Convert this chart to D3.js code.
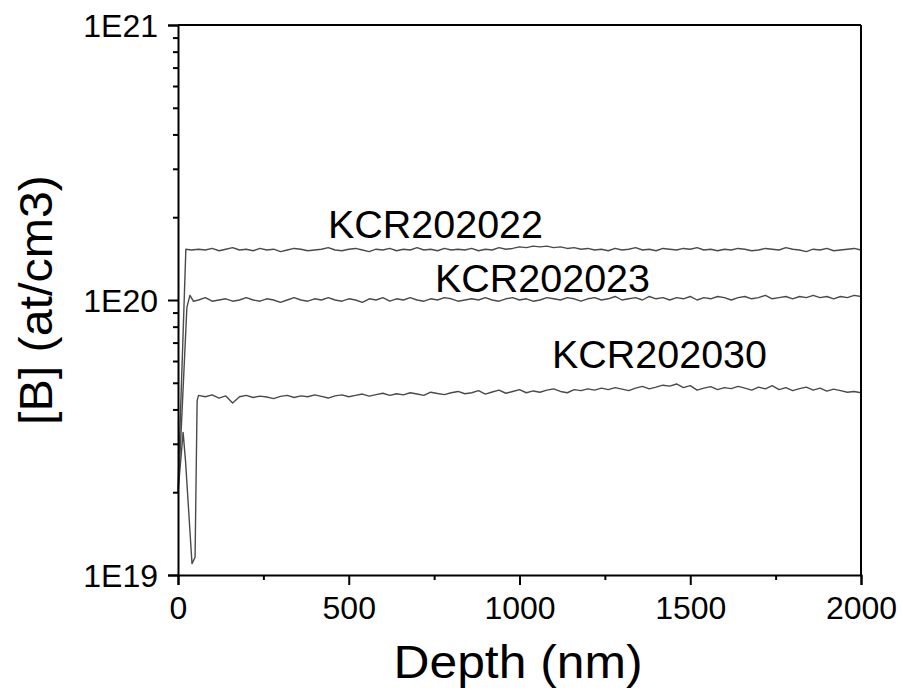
<!DOCTYPE html>
<html><head><meta charset="utf-8">
<script src="https://cdn.jsdelivr.net/npm/d3@7"></script>
<style>html,body{margin:0;padding:0;background:#fff;}svg{display:block;}</style>
</head><body>
<script>
// ---- data (concentration values in units of 1E19 at/cm3) ----
const seriesNames = ["KCR202022", "KCR202023", "KCR202030"];
const xTicks = [0, 500, 1000, 1500, 2000];
const xMinorTicks = [250, 750, 1250, 1750];
const yTickLabels = ["1E19", "1E20", "1E21"];
const yTicks = [1e19, 1e20, 1e21];

// plateau depth grid (nm): 60, 80, ..., 2000
const gridDepth = d3.range(60, 2001, 20);

const headDepth2022 = [0, 23, 40];
const headValue2022 = [2.05, 15.3, 15.2];
const body2022 = [
15.3,15.2,15.4,15.1,15.3,15.5,15.2,15.3,15.1,15.4,
15.2,15.3,15.0,15.2,15.4,15.3,15.1,15.2,15.3,15.5,
15.2,15.1,15.3,15.4,15.2,15.0,15.3,15.2,15.4,15.1,
15.3,15.2,15.5,15.2,15.3,15.1,15.4,15.2,15.3,15.2,
15.4,15.1,15.3,15.2,15.5,15.3,15.4,15.6,15.5,15.7,
15.6,15.7,15.5,15.6,15.4,15.5,15.3,15.4,15.2,15.3,
15.1,15.4,15.2,15.3,15.5,15.2,15.3,15.1,15.4,15.3,
15.2,15.4,15.3,15.5,15.2,15.3,15.1,15.3,15.2,15.4,
15.3,15.1,15.2,15.4,15.3,15.2,15.5,15.3,15.2,15.0,
15.3,15.2,15.4,15.1,15.2,15.3,15.4,15.2];

const headDepth2023 = [0, 8, 26, 35, 45];
const headValue2023 = [2.0, 3.1, 9.4, 10.4, 9.9];
const body2023 = [
10.0,10.2,9.9,10.0,10.1,9.9,10.0,10.2,10.0,9.9,
10.1,10.0,9.8,10.0,10.2,10.0,9.9,10.1,10.0,10.2,
10.0,9.9,10.1,10.0,9.8,10.1,10.0,10.2,9.9,10.1,
10.0,10.2,10.0,9.9,10.1,10.0,10.2,10.1,9.9,10.0,
10.1,10.0,10.2,10.0,9.9,10.1,10.2,10.0,10.1,9.9,
10.0,10.2,10.1,10.0,10.2,10.1,9.9,10.1,10.2,10.0,
10.1,10.3,10.0,10.1,10.2,10.0,10.3,10.1,10.2,10.0,
10.2,10.1,10.3,10.0,10.2,10.1,10.3,10.2,10.0,10.2,
10.3,10.1,10.2,10.4,10.1,10.2,10.3,10.1,10.3,10.2,
10.4,10.2,10.3,10.1,10.3,10.2,10.4,10.3];

const headDepth2030 = [0, 15, 22, 41, 50, 56];
const headValue2030 = [2.0, 3.3, 2.6, 1.1, 1.16, 4.3];
const body2030 = [
4.50,4.45,4.52,4.40,4.48,4.22,4.45,4.50,4.42,4.47,
4.44,4.38,4.46,4.50,4.42,4.48,4.45,4.52,4.46,4.40,
4.48,4.52,4.45,4.50,4.55,4.47,4.53,4.58,4.50,4.56,
4.52,4.60,4.55,4.50,4.62,4.57,4.53,4.60,4.65,4.56,
4.60,4.68,4.55,4.63,4.70,4.58,4.65,4.72,4.60,4.67,
4.62,4.70,4.75,4.65,4.60,4.72,4.68,4.75,4.70,4.78,
4.72,4.80,4.74,4.68,4.78,4.85,4.75,4.82,4.90,4.86,
4.95,4.80,4.88,4.70,4.78,4.84,4.72,4.80,4.76,4.85,
4.78,4.70,4.82,4.75,4.88,4.72,4.80,4.68,4.76,4.82,
4.70,4.78,4.66,4.74,4.68,4.62,4.65,4.60];

const unit = 1e19;

// ---- build series ----
function build(hd, hv, body) {
  const pts = hd.map((d, i) => ({x: d, y: hv[i] * unit}));
  gridDepth.forEach((d, i) => pts.push({x: d, y: body[i] * unit}));
  return pts;
}
const series = [
  build(headDepth2022, headValue2022, body2022),
  build(headDepth2023, headValue2023, body2023),
  build(headDepth2030, headValue2030, body2030)
];

// ---- layout ----
const W = 903, H = 692;
const L = 178, R = 861, T = 25, B = 575;
const font = "'Liberation Sans', Arial, sans-serif";

const svg = d3.select("body").append("svg").attr("width", W).attr("height", H);

const x = d3.scaleLinear().domain([0, 2000]).range([L, R]);
const y = d3.scaleLog().domain([1e19, 1e21]).range([B, T]);

// curves
const line = d3.line().x(d => x(d.x)).y(d => y(d.y));
svg.append("g").selectAll("path").data(series).join("path")
  .attr("d", line).attr("fill", "none")
  .attr("stroke", "#4a4a4a").attr("stroke-width", 1.4).attr("stroke-linejoin", "round");

// y axis
const yMinor = [];
[1e19, 1e20].forEach(b => { for (let k = 2; k <= 9; k++) yMinor.push(b * k); });
const yAxis = d3.axisLeft(y).tickValues(yTicks).tickSize(10).tickFormat((d, i) => yTickLabels[i]).tickPadding(10);
const gy = svg.append("g").attr("transform", `translate(${L},0)`).call(yAxis);
gy.select(".domain").attr("stroke-width", 2);
gy.selectAll(".tick line").attr("stroke-width", 2);
gy.selectAll(".tick text").attr("font-family", font).attr("font-size", 32).attr("fill", "#000").attr("dy", "0.36em");
svg.append("g").attr("transform", `translate(${L},0)`)
  .call(d3.axisLeft(y).tickValues(yMinor).tickSize(5).tickFormat(""))
  .call(g => g.select(".domain").remove())
  .selectAll(".tick line").attr("stroke-width", 2);

// x axis
const xAxis = d3.axisBottom(x).tickValues(xTicks).tickSize(10).tickPadding(10).tickFormat(d3.format("d"));
const gx = svg.append("g").attr("transform", `translate(0,${B})`).call(xAxis);
gx.select(".domain").attr("stroke-width", 2);
gx.selectAll(".tick line").attr("stroke-width", 2);
gx.selectAll(".tick text").attr("font-family", font).attr("font-size", 32).attr("fill", "#000").attr("dy", "0.76em");
svg.append("g").attr("transform", `translate(0,${B})`)
  .call(d3.axisBottom(x).tickValues(xMinorTicks).tickSize(5).tickFormat(""))
  .call(g => g.select(".domain").remove())
  .selectAll(".tick line").attr("stroke-width", 2);

// frame top/right
svg.append("line").attr("x1", L).attr("x2", R).attr("y1", T).attr("y2", T).attr("stroke", "#000").attr("stroke-width", 2);
svg.append("line").attr("x1", R).attr("x2", R).attr("y1", T).attr("y2", B).attr("stroke", "#000").attr("stroke-width", 2);

// series labels
const labelPos = [[328, 238], [435, 292], [552, 368]];
svg.append("g").selectAll("text").data(seriesNames).join("text")
  .attr("x", (d, i) => labelPos[i][0]).attr("y", (d, i) => labelPos[i][1])
  .attr("font-family", font).attr("font-size", 38).attr("fill", "#000")
  .attr("textLength", 215).attr("lengthAdjust", "spacingAndGlyphs")
  .text(d => d);

// axis titles
svg.append("text").attr("x", 518).attr("y", 678).attr("text-anchor", "middle")
  .attr("font-family", font).attr("font-size", 46).attr("fill", "#000")
  .attr("textLength", 249).attr("lengthAdjust", "spacingAndGlyphs").text("Depth (nm)");
svg.append("text").attr("transform", `translate(52,300) rotate(-90)`).attr("text-anchor", "middle")
  .attr("font-family", font).attr("font-size", 46).attr("fill", "#000")
  .attr("textLength", 250).attr("lengthAdjust", "spacingAndGlyphs").text("[B] (at/cm3)");
</script>
</body></html>
